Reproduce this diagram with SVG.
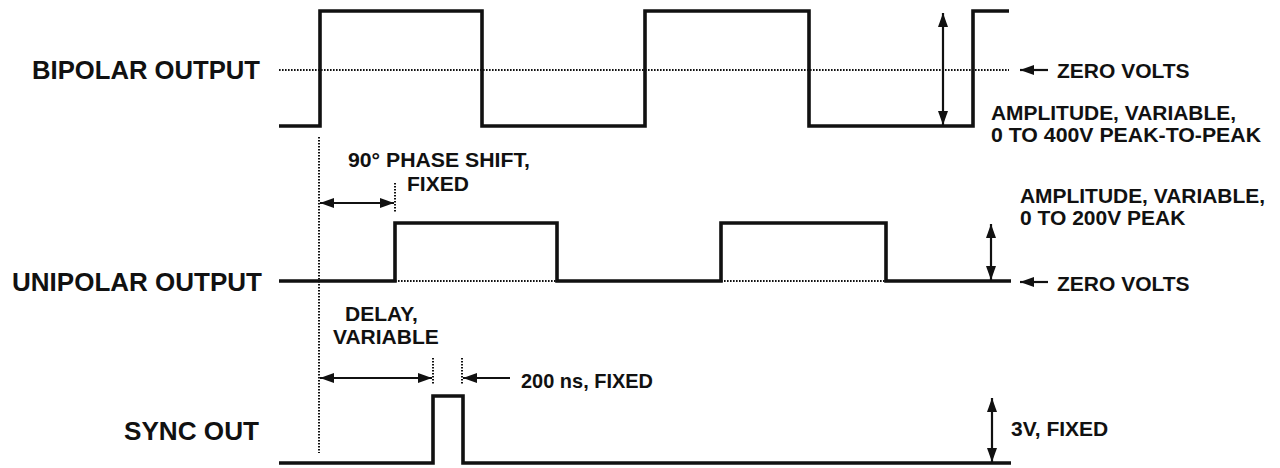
<svg xmlns="http://www.w3.org/2000/svg" width="1280" height="468" viewBox="0 0 1280 468">
<style>
.sig{fill:none;stroke:#111;stroke-width:3.6;stroke-linejoin:miter;stroke-linecap:butt}
.dot{fill:none;stroke:#111;stroke-width:2;stroke-dasharray:1.6 1.4}
.arr{fill:none;stroke:#111;stroke-width:2.2}
.lbl{font-family:"Liberation Sans",Arial,sans-serif;font-weight:bold;font-size:25px;fill:#111}
.ann{font-family:"Liberation Sans",Arial,sans-serif;font-weight:bold;font-size:21px;fill:#111}
</style>
<defs>
<marker id="ah" viewBox="0 0 14 10" refX="14" refY="5" markerWidth="14" markerHeight="10" markerUnits="userSpaceOnUse" orient="auto-start-reverse">
<path d="M0,0 L14,5 L0,10 z" fill="#111"/>
</marker>
</defs>
<rect width="1280" height="468" fill="#fff"/>

<g id="bipolar">
<path class="dot" d="M279,70 H1009"/>
<path class="sig" d="M279,126 H320 V11 H482 V126 H645 V11 H809 V126 H973 V11 H1009"/>
<text class="lbl" x="32" y="78.5" textLength="228" lengthAdjust="spacingAndGlyphs">BIPOLAR OUTPUT</text>
<text class="ann" x="1057" y="78">ZERO VOLTS</text>
<text class="ann" x="991" y="119.5" textLength="245" lengthAdjust="spacingAndGlyphs">AMPLITUDE, VARIABLE,</text>
<text class="ann" x="991" y="141.5" textLength="270" lengthAdjust="spacingAndGlyphs">0 TO 400V PEAK-TO-PEAK</text>
</g>

<g id="unipolar">
<path class="dot" d="M395,281 H557 M721,281 H886"/>
<path class="sig" d="M279,281 H395 V223 H557 V281 H721 V223 H886 V281 H1011"/>
<text class="lbl" x="12" y="290.5" textLength="250" lengthAdjust="spacingAndGlyphs">UNIPOLAR OUTPUT</text>
<text class="ann" x="1020" y="203" textLength="245" lengthAdjust="spacingAndGlyphs">AMPLITUDE, VARIABLE,</text>
<text class="ann" x="1020" y="225">0 TO 200V PEAK</text>
<text class="ann" x="1057" y="291">ZERO VOLTS</text>
</g>

<g id="sync">
<path class="sig" d="M279,463 H433 V396 H463 V463 H1011"/>
<text class="lbl" x="124" y="439.5" textLength="135" lengthAdjust="spacingAndGlyphs">SYNC OUT</text>
<text class="ann" x="1011" y="436">3V, FIXED</text>
</g>

<g id="phase-shift">
<path class="dot" d="M319,137 V453 M395,183 V212"/>
<text class="ann" x="348" y="167" textLength="182" lengthAdjust="spacingAndGlyphs">90° PHASE SHIFT,</text>
<text class="ann" x="407" y="190.5">FIXED</text>
</g>

<g id="delay">
<path class="dot" d="M433,358 V385 M462,358 V385"/>
<text class="ann" x="345" y="321">DELAY,</text>
<text class="ann" x="333" y="343.5">VARIABLE</text>
<text class="ann" x="521" y="388" textLength="132" lengthAdjust="spacingAndGlyphs">200 ns, FIXED</text>
</g>

<g id="connectors">
<line class="arr" x1="320" y1="203" x2="394" y2="203" marker-start="url(#ah)" marker-end="url(#ah)"/>
<line class="arr" x1="320" y1="378" x2="432" y2="378" marker-start="url(#ah)" marker-end="url(#ah)"/>
<line class="arr" x1="510" y1="378" x2="463" y2="378" marker-end="url(#ah)"/>
<line class="arr" x1="1048" y1="70" x2="1020" y2="70" marker-end="url(#ah)"/>
<line class="arr" x1="1048" y1="282" x2="1020" y2="282" marker-end="url(#ah)"/>
<line class="arr" x1="943" y1="13" x2="943" y2="125" marker-start="url(#ah)" marker-end="url(#ah)"/>
<line class="arr" x1="991" y1="224" x2="991" y2="280" marker-start="url(#ah)" marker-end="url(#ah)"/>
<line class="arr" x1="992" y1="398" x2="992" y2="462" marker-start="url(#ah)" marker-end="url(#ah)"/>
</g>
</svg>
